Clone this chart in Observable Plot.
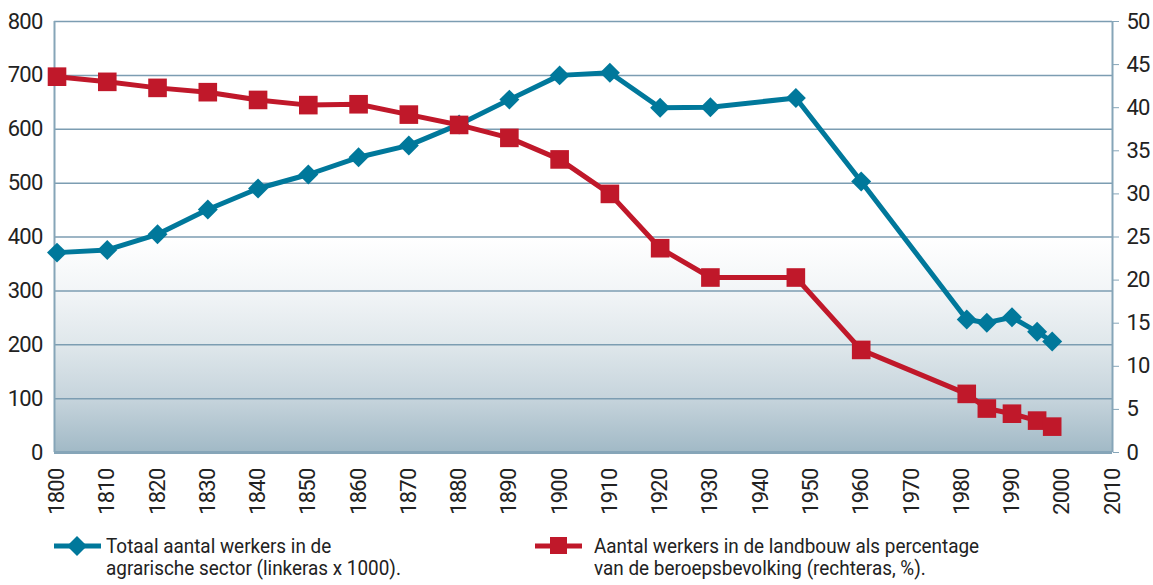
<!DOCTYPE html>
<html><head><meta charset="utf-8">
<script src="https://cdn.jsdelivr.net/npm/d3@7"></script>
<script src="https://cdn.jsdelivr.net/npm/@observablehq/plot@0.6"></script>
<style>
body{margin:0;background:#fff;font-family:Roboto,"DejaVu Sans Condensed",sans-serif;}
#wrap{position:relative;width:1153px;height:585px;overflow:hidden;}
.leg{position:absolute;font-size:21px;line-height:22px;color:#222;white-space:nowrap;transform-origin:0 0;transform:scaleX(0.9);}
.sym{position:absolute;}
</style></head><body>
<div id="wrap"><div id="chart"></div>
<svg class="sym" style="left:50px;top:533px" width="56" height="26"><line x1="4" x2="51" y1="13" y2="13" stroke="#00789b" stroke-width="5"/><path d="M27,3 L37,13 L27,23 L17,13Z" fill="#00789b"/></svg>
<div class="leg" style="left:106px;top:535px">Totaal aantal werkers in de<br>agrarische sector (linkeras x 1000).</div>
<svg class="sym" style="left:531px;top:533px" width="56" height="26"><line x1="4" x2="51" y1="13" y2="13" stroke="#c0182a" stroke-width="5"/><rect x="19" y="4" width="17" height="17" fill="#c0182a"/></svg>
<div class="leg" style="left:594px;top:535px">Aantal werkers in de landbouw als percentage<br>van de beroepsbevolking (rechteras, %).</div>
</div>
<script>
// Data
const workerYears = [1800,1810,1820,1830,1840,1850,1860,1870,1880,1890,1900,1910,1920,1930,1947,1960,1981,1985,1990,1995,1998];
const workers =     [371, 376, 405, 451, 490, 516, 548, 570, 609, 655, 700, 705, 640, 641, 658, 503, 247, 241, 251, 224, 206];
const pctYears = [1800,1810,1820,1830,1840,1850,1860,1870,1880,1890,1900,1910,1920,1930,1947,1960,1981,1985,1990,1995,1998];
const pct =      [43.6,43.0,42.3,41.8,40.9,40.3,40.4,39.2,38.0,36.5,34.0,30.0,23.7,20.3,20.3,11.9,6.8, 5.1, 4.5, 3.7, 3.0];
const xTicks = [1800,1810,1820,1830,1840,1850,1860,1870,1880,1890,1900,1910,1920,1930,1940,1950,1960,1970,1980,1990,2000,2010];
const leftTicks = [0,100,200,300,400,500,600,700,800];
const rightTicks = [0,5,10,15,20,25,30,35,40,45,50];
const ratio = 800/50;

const blueData = workerYears.map((y,i)=>({year:y, value:workers[i]}));
const redData = pctYears.map((y,i)=>({year:y, pct:pct[i]}));

const blue = "#00789b", red = "#c0182a", grid = "#7c9db2", axisCol = "#86a5b8";

const chart = Plot.plot({
  width:1153, height:520,
  marginTop:21, marginBottom:68, marginLeft:54, marginRight:41,
  style:{fontFamily:'Roboto,"DejaVu Sans Condensed",sans-serif', fontSize:"22px", color:"#222", background:"transparent", overflow:"visible", letterSpacing:"-0.8px"},
  x:{domain:[1799.5,2010], label:null},
  y:{domain:[0,800], label:null},
  marks:[
    Plot.frame({fill:"url(#bgGrad)", stroke:null}),
    Plot.ruleY(leftTicks, {stroke:grid, strokeWidth:1.5}),
    Plot.ruleX([1799.5, 2010], {stroke:axisCol, strokeWidth:2}),
    Plot.ruleY([0], {stroke:axisCol, strokeWidth:3}),
    Plot.axisX({ticks:xTicks, tickFormat:d=>String(d), tickRotate:-90, tickSize:0, tickPadding:16, fontSize:22, label:null}),
    Plot.axisY({anchor:"left", ticks:leftTicks, tickSize:0, tickPadding:12, fontSize:22, label:null}),
    Plot.axisY({anchor:"right", ticks:rightTicks.map(v=>v*ratio), tickFormat:d=>String(d/ratio), tickSize:6, tickPadding:8, stroke:axisCol, fontSize:22, label:null}),
    Plot.line(blueData, {x:"year", y:"value", stroke:blue, strokeWidth:5}),
    Plot.dot(blueData, {x:"year", y:"value", symbol:"diamond2", r:9, fill:blue, stroke:null}),
    Plot.line(redData, {x:"year", y:d=>d.pct*ratio, stroke:red, strokeWidth:5}),
    Plot.dot(redData, {x:"year", y:d=>d.pct*ratio, symbol:"square", r:10.5, fill:red, stroke:null})
  ]
});
document.getElementById("chart").appendChild(chart);
const svg = d3.select(chart);
const g = svg.insert("defs", ":first-child").append("linearGradient")
  .attr("id","bgGrad").attr("x1",0).attr("y1",0).attr("x2",0).attr("y2",1);
[[0,"#ffffff"],[0.5,"#ffffff"],[0.625,"#f2f5f7"],[0.75,"#dfe7eb"],[0.875,"#c6d4dc"],[1,"#a1b9c6"]]
  .forEach(([o,c])=>g.append("stop").attr("offset",o).attr("stop-color",c));
</script>
</body></html>
